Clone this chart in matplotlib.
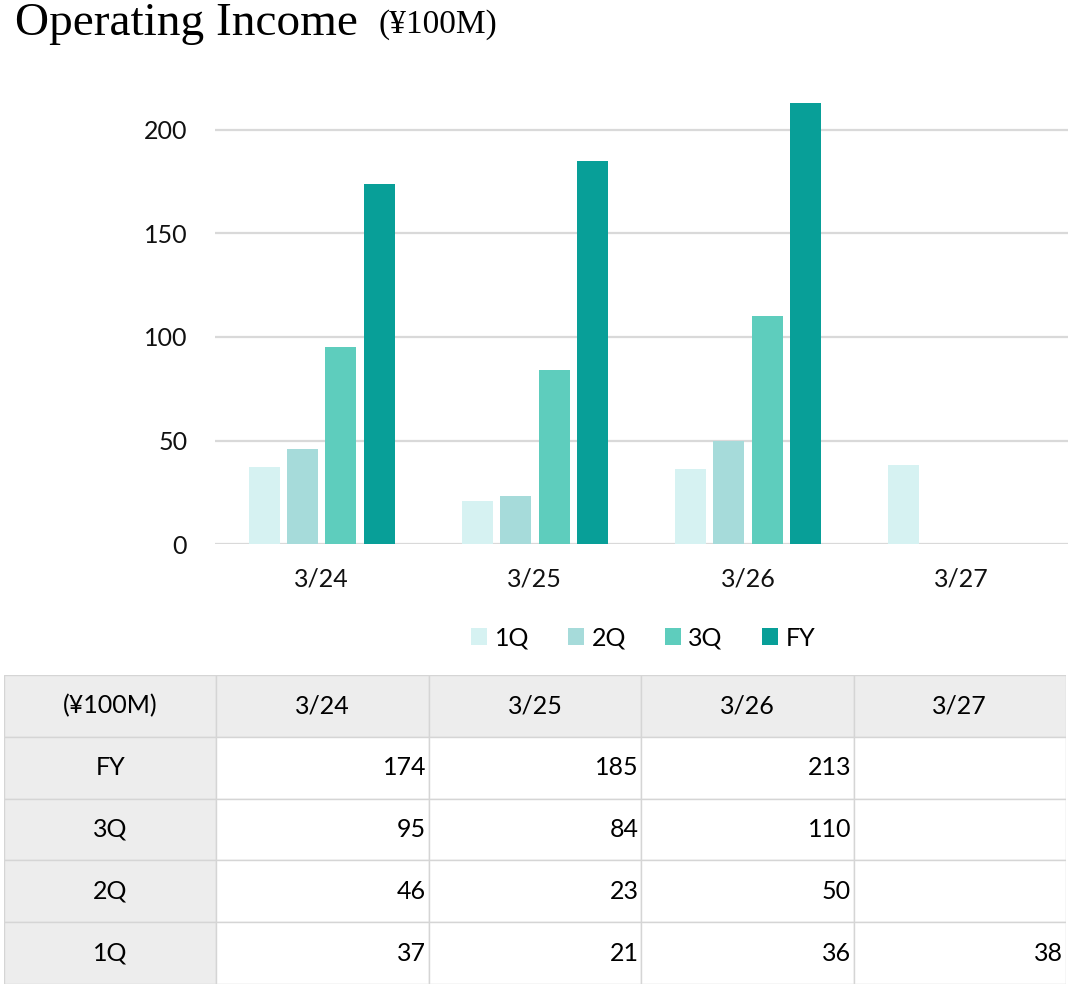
import numpy as np
import matplotlib
matplotlib.use('Agg')
import matplotlib.pyplot as plt
from matplotlib.patches import Rectangle

# data (¥100M)
periods = ['3/24', '3/25', '3/26', '3/27']
q1 = [37, 21, 36, 38]
q2 = [46, 23, 50, None]
q3 = [95, 84, 110, None]
fy = [174, 185, 213, None]
series_names = ['1Q', '2Q', '3Q', 'FY']
unit_label = '(¥100M)'

colors = ['#D6F2F2', '#A6DBDA', '#5ECDBD', '#089F98']

plt.rcParams['font.family'] = ['Lato', 'DejaVu Sans']
FS = 18

W, H = 1072, 989
fig = plt.figure(figsize=(W / 100, H / 100), dpi=100)

# ---------- title ----------
fig.text(15 / W, 1 - 35 / H, 'Operating Income', fontsize=34,
         family=['Liberation Serif'], ha='left', va='baseline')
fig.text(378 / W, 1 - 33 / H, '(¥100M)', fontsize=24,
         family=['Liberation Serif', 'DejaVu Serif'], ha='left', va='baseline')

# ---------- bar chart ----------
ax_l, ax_r = 215, 1068
y0_px, y200_px = 544, 130
ymax = 222
top_px = y0_px - ymax * (y0_px - y200_px) / 200
ax = fig.add_axes([ax_l / W, 1 - y0_px / H, (ax_r - ax_l) / W, (y0_px - top_px) / H])

all_series = [q1, q2, q3, fy]
x = np.arange(len(periods))
step = 0.18
width = 0.145
for i, (name, vals) in enumerate(zip(series_names, all_series)):
    xs = [xi + (i - 1.5) * step for xi, v in zip(x, vals) if v is not None]
    vs = [v for v in vals if v is not None]
    ax.bar(xs, vs, width=width, color=colors[i], label=name, zorder=3)

ax.set_xlim(-0.5, len(periods) - 0.5)
ax.set_ylim(0, ymax)
ax.set_yticks([0, 50, 100, 150, 200])
ax.set_xticks(x)
ax.set_xticklabels(periods)
ax.tick_params(axis='both', length=0, labelsize=FS, colors='#111111')
ax.tick_params(axis='y', pad=20)
ax.tick_params(axis='x', pad=17)
ax.grid(axis='y', color='#D9D9D9', linewidth=1.6, zorder=0)
for s in ax.spines.values():
    s.set_visible(False)

leg = fig.legend(loc='center', bbox_to_anchor=(643 / W, 1 - 638 / H), ncol=4,
                 frameon=False, fontsize=FS, handlelength=0.65, handleheight=0.65,
                 handletextpad=0.3, columnspacing=1.55)

# ---------- data table ----------
tb_l, tb_r, tb_t, tb_b = 4, 1066, 675, 984
tax = fig.add_axes([tb_l / W, 1 - tb_b / H, (tb_r - tb_l) / W, (tb_b - tb_t) / H])
n_cols = len(periods) + 1
n_rows = len(series_names) + 1
tax.set_xlim(0, n_cols)
tax.set_ylim(n_rows, 0)
tax.axis('off')

header_bg = '#EDEDED'
line_c = '#D5D5D5'
for r in range(n_rows):
    for c in range(n_cols):
        bg = header_bg if (r == 0 or c == 0) else 'white'
        tax.add_patch(Rectangle((c, r), 1, 1, facecolor=bg, edgecolor=line_c,
                                linewidth=1.0))

tax.text(0.5, 0.5, unit_label, ha='center', va='center', fontsize=FS)
for c, p in enumerate(periods):
    tax.text(c + 1.5, 0.5, p, ha='center', va='center', fontsize=FS)

rows = [('FY', fy), ('3Q', q3), ('2Q', q2), ('1Q', q1)]
for r, (name, vals) in enumerate(rows):
    tax.text(0.5, r + 1.5, name, ha='center', va='center', fontsize=FS)
    for c, v in enumerate(vals):
        if v is not None:
            tax.text(c + 2 - 0.012, r + 1.5, str(v), ha='right', va='center', fontsize=FS)

fig.savefig('out.png', dpi=100)
